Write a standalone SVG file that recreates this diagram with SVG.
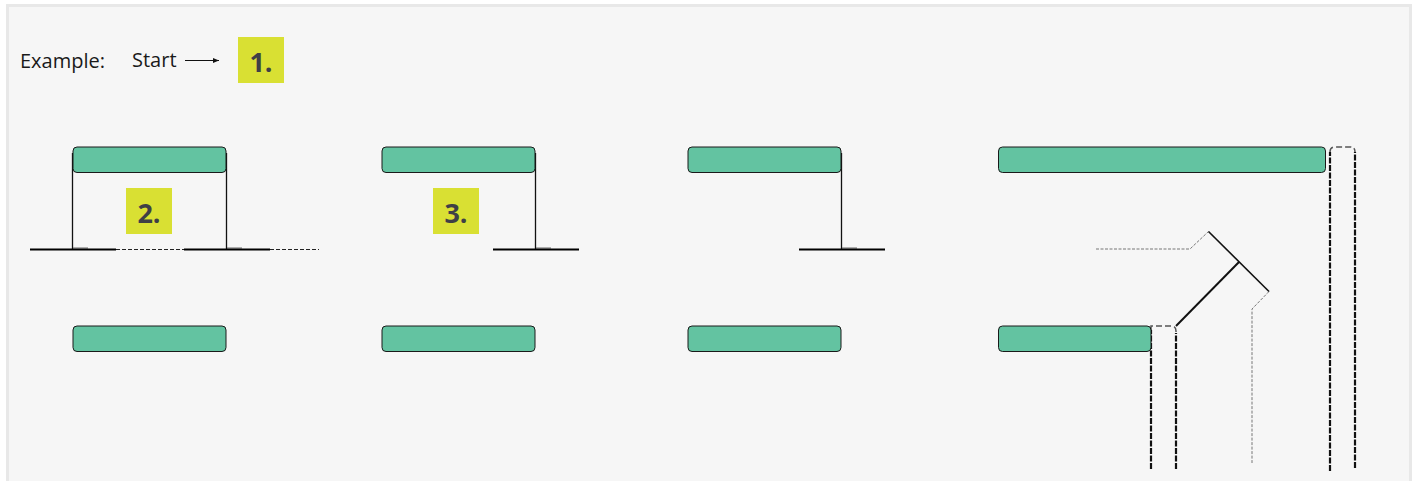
<svg xmlns="http://www.w3.org/2000/svg" width="1414" height="481" viewBox="0 0 1414 481">
<style>
.n{fill:#63c3a1;stroke:#1a1a1a;stroke-width:1}
.b{fill:#d9e033}
.bt{font-family:"Open Sans","Noto Sans",sans-serif;font-weight:700;font-size:27px;fill:#3f3f46;text-anchor:middle}
.t{font-family:"Open Sans","Noto Sans",sans-serif;font-size:20px;fill:#1a1a1a}
.l{fill:none;stroke:#111;stroke-width:1.300}
.h{fill:none;stroke:#000;stroke-width:2}
.d{fill:none;stroke:#222;stroke-width:1;stroke-dasharray:4 2}
.k{fill:none;stroke:#111;stroke-width:2.200;stroke-dasharray:6 1.500}
.g{fill:none;stroke:#777;stroke-width:1;stroke-dasharray:3 1.500}
.c{fill:none;stroke:#555;stroke-width:1.500;stroke-dasharray:6 3}
</style>
<defs><marker id="a" markerWidth="7" markerHeight="6" refX="6" refY="3" orient="auto" markerUnits="userSpaceOnUse"><path d="M0 .5L6 3L0 5.500z" fill="#111"/></marker></defs>
<rect x="0" y="0" width="1414" height="481" fill="#fff"/>
<path d="M7.500 481V5.500H1410.500V481" fill="#f6f6f6" stroke="#e8e8e8" stroke-width="3"/>
<g id="legend">
<text class="t" x="20" y="68">Example:</text>
<text class="t" x="132" y="67">Start</text>
</g>
<g id="connectors">
<path d="M185 60.500H219" fill="none" stroke="#111" stroke-width="1" marker-end="url(#a)"/>
<path class="l" d="M72.500 153V249M226.500 153V249M535.500 153V249M841.500 153V249"/>
<path d="M73 248H88M227 248H242M536 248H551M842 248H857" fill="none" stroke="#666" stroke-width="1"/>
<path class="h" d="M30 249.500H116M184 249.500H270M493 249.500H579M799 249.500H885"/>
<path class="d" d="M116 249.500H184M270 249.500H319"/>
<path class="k" d="M1330 471V152"/>
<path class="k" d="M1355 468V152"/>
<path class="c" d="M1330 152Q1330 147 1335 147H1350Q1355 147 1355 152"/>
<path class="k" d="M1151 469V330M1176 469V333"/>
<path class="c" d="M1151 330V326H1171Q1176 326 1176 331V333"/>
<path class="g" d="M1096 249H1190L1208.500 231.500"/>
<path class="g" d="M1269 291.500L1252 309V463"/>
<path d="M1208.500 231.500L1269 291.500" fill="none" stroke="#111" stroke-width="1.600"/>
<path d="M1176 326L1239 262" fill="none" stroke="#111" stroke-width="2"/>
</g>
<g id="node-1"><rect class="n" x="73" y="147" width="153" height="25.500" rx="4"/></g>
<g id="node-2"><rect class="n" x="73" y="326" width="153" height="25.500" rx="4"/></g>
<g id="node-3"><rect class="n" x="382" y="147" width="153" height="25.500" rx="4"/></g>
<g id="node-4"><rect class="n" x="382" y="326" width="153" height="25.500" rx="4"/></g>
<g id="node-5"><rect class="n" x="688" y="147" width="153" height="25.500" rx="4"/></g>
<g id="node-6"><rect class="n" x="688" y="326" width="153" height="25.500" rx="4"/></g>
<g id="node-7"><rect class="n" x="998.500" y="147" width="327" height="25.500" rx="4"/></g>
<g id="node-8"><rect class="n" x="998.500" y="326" width="152.500" height="25.500" rx="4"/></g>
<g id="badge-1"><rect class="b" x="238" y="37" width="46" height="46"/><text class="bt" x="261" y="72">1.</text></g>
<g id="badge-2"><rect class="b" x="126" y="188" width="46" height="46"/><text class="bt" x="149" y="223">2.</text></g>
<g id="badge-3"><rect class="b" x="433" y="188" width="46" height="46"/><text class="bt" x="456" y="223">3.</text></g>
</svg>
